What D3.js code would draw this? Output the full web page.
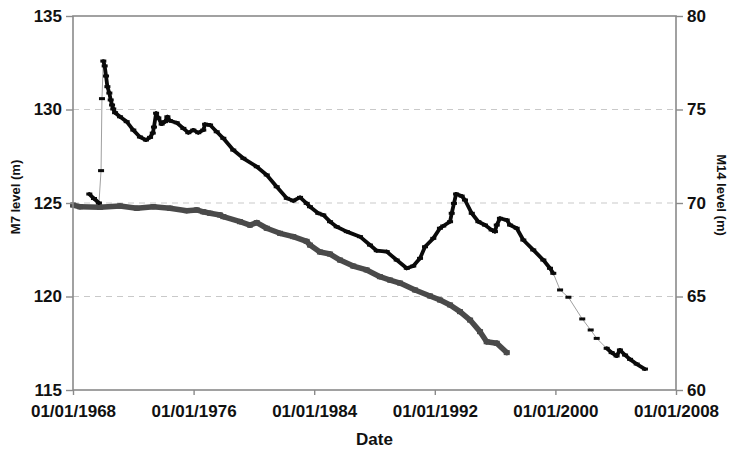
<!DOCTYPE html>
<html>
<head>
<meta charset="utf-8">
<script src="https://cdn.jsdelivr.net/npm/d3@7"></script>
<style>
  html, body { margin: 0; padding: 0; background: #fff; }
  svg { display: block; font-family: "Liberation Sans", Arial, sans-serif; }
</style>
</head>
<body>
<svg id="chart" width="730" height="451"></svg>
<script>
// ---- Data ----
const xTickLabels = ["01/01/1968", "01/01/1976", "01/01/1984", "01/01/1992", "01/01/2000", "01/01/2008"];
const leftTicks = [115, 120, 125, 130, 135];
const rightTicks = [60, 65, 70, 75, 80];

// M7 (left axis), decimal years and levels (m)
const m7Years = [1968.0, 1968.46, 1969.79, 1971.12, 1972.23, 1973.33, 1974.43, 1975.54, 1976.21, 1976.64,
  1977.09, 1977.75, 1977.97, 1979.08, 1979.74, 1980.19, 1980.85, 1981.73, 1982.61, 1983.50,
  1983.72, 1984.38, 1985.05, 1985.71, 1986.59, 1987.48, 1988.36, 1989.03, 1989.69, 1990.69,
  1991.68, 1992.35, 1993.01, 1993.67, 1994.34, 1995.0, 1995.44, 1996.11, 1996.77];
const m7Values = [124.89, 124.80, 124.77, 124.84, 124.72, 124.80, 124.72, 124.59, 124.63, 124.53,
  124.45, 124.36, 124.27, 124.0, 123.82, 123.95, 123.65, 123.38, 123.20, 122.95,
  122.75, 122.38, 122.27, 121.95, 121.63, 121.42, 121.06, 120.88, 120.72, 120.35,
  120.03, 119.81, 119.55, 119.19, 118.74, 118.12, 117.58, 117.50, 117.0];

// M14 (right axis)
const m14Years = [1969.08, 1969.39, 1969.72, 1969.86, 1969.92, 1970.01, 1970.10, 1970.19, 1970.28, 1970.41,
  1970.50, 1970.59, 1970.67, 1970.79, 1971.12, 1971.56, 1972.0, 1972.44, 1972.84, 1973.11,
  1973.29, 1973.37, 1973.51, 1973.66, 1973.88, 1974.10, 1974.26, 1974.43, 1974.88, 1975.32,
  1975.65, 1975.98, 1976.31, 1976.64, 1976.76, 1977.09, 1977.53, 1977.97, 1978.63, 1979.30,
  1980.19, 1980.85, 1981.51, 1982.18, 1982.61, 1983.06, 1983.50, 1983.72, 1984.27, 1984.60,
  1985.05, 1985.49, 1986.16, 1987.04, 1987.70, 1988.15, 1988.81, 1989.47, 1990.14, 1990.57,
  1991.02, 1991.35, 1991.90, 1992.34, 1992.56, 1993.01, 1993.12, 1993.27, 1993.41, 1993.78,
  1994.0, 1994.45, 1994.89, 1995.33, 1995.77, 1995.99, 1996.11, 1996.32, 1996.77, 1996.99,
  1997.43, 1997.87, 1998.53, 1999.20, 1999.64, 1999.86, 2000.31, 2000.86, 2001.78, 2002.34,
  2002.74, 2003.40, 2003.73, 2004.06, 2004.28, 2004.62, 2004.95, 2005.39, 2005.94];
const m14Values = [70.48, 70.24, 70.0, 71.73, 75.58, 77.59, 77.33, 76.79, 76.22, 75.88,
  75.51, 75.24, 75.03, 74.83, 74.61, 74.35, 73.90, 73.53, 73.37, 73.51,
  73.74, 74.06, 74.80, 74.55, 74.22, 74.35, 74.61, 74.40, 74.29, 73.99,
  73.76, 73.90, 73.76, 73.90, 74.21, 74.17, 73.81, 73.46, 72.83, 72.39,
  71.94, 71.50, 70.87, 70.25, 70.12, 70.30, 69.98, 69.80, 69.45, 69.36,
  69.0, 68.73, 68.47, 68.20, 67.75, 67.45, 67.40, 66.95, 66.51, 66.63,
  67.04, 67.66, 68.11, 68.65, 68.77, 69.0, 69.45, 69.98, 70.48, 70.37,
  70.16, 69.45, 69.0, 68.82, 68.56, 68.47, 68.82, 69.18, 69.09, 68.82,
  68.65, 68.02, 67.49, 66.95, 66.51, 66.24, 65.35, 64.96, 63.80, 63.21,
  62.76, 62.23, 62.0, 61.82, 62.14, 61.87, 61.64, 61.39, 61.12];
// Periods with only sparse readings for M14 (shown as separate markers)
const m14SparsePeriods = [[1969.70, 1970.02], [1999.80, 2003.50]];
const m7SparsePeriods = [];

// ---- Helpers ----
function decToDate(y) {
  const yr = Math.floor(y);
  const s = new Date(yr, 0, 1).getTime(), e = new Date(yr + 1, 0, 1).getTime();
  return new Date(s + (y - yr) * (e - s));
}
const parseTick = d3.timeParse("%d/%m/%Y");

// ---- Layout ----
const svg = d3.select("#chart");
const margin = { left: 73, right: 54, top: 16, bottom: 61 };
const W = 730, H = 451;
const x0 = margin.left, x1 = W - margin.right, y0 = margin.top, y1 = H - margin.bottom;

const x = d3.scaleTime().domain([parseTick(xTickLabels[0]), parseTick(xTickLabels[xTickLabels.length - 1])]).range([x0, x1]);
const yL = d3.scaleLinear().domain([115, 135]).range([y1, y0]);
const yR = d3.scaleLinear().domain([60, 80]).range([y1, y0]);

// Gridlines (dashed)
const grid = svg.append("g");
grid.selectAll("line").data(leftTicks.filter(t => t > 115 && t < 135)).join("line")
  .attr("x1", x0).attr("x2", x1)
  .attr("y1", d => yL(d)).attr("y2", d => yL(d))
  .attr("stroke", "#c9c9c9").attr("stroke-width", 1).attr("stroke-dasharray", "6,5");

function drawSeries(years, values, sparse, yScale, color, thick, mw, mh) {
  const g = svg.append("g");
  const pts = years.map((yr, i) => [x(decToDate(yr)), yScale(values[i])]);
  const inSparse = yr => sparse.some(p => yr >= p[0] && yr <= p[1]);
  g.append("path").attr("d", d3.line()(pts))
    .attr("fill", "none").attr("stroke", "#a0a0a0").attr("stroke-width", 1);
  const segs = [];
  for (let i = 1; i < pts.length; i++) {
    if (!(inSparse(years[i - 1]) && inSparse(years[i]))) segs.push([pts[i - 1], pts[i]]);
  }
  g.selectAll("line.seg").data(segs).join("line").attr("class", "seg")
    .attr("x1", s => s[0][0]).attr("y1", s => s[0][1])
    .attr("x2", s => s[1][0]).attr("y2", s => s[1][1])
    .attr("stroke", color).attr("stroke-width", thick).attr("stroke-linecap", "round");
  g.selectAll("rect").data(pts).join("rect")
    .attr("x", p => p[0] - mw / 2).attr("y", p => p[1] - mh / 2)
    .attr("width", mw).attr("height", mh).attr("fill", color);
}

drawSeries(m7Years, m7Values, m7SparsePeriods, yL, "#4a4a4a", 5.5, 6, 5);
drawSeries(m14Years, m14Values, m14SparsePeriods, yR, "#0a0a0a", 3.8, 6, 3);

// Frame
svg.append("rect").attr("x", x0).attr("y", y0).attr("width", x1 - x0).attr("height", y1 - y0)
  .attr("fill", "none").attr("stroke", "#8a8a8a").attr("stroke-width", 1.6);

// Axes
const fontSize = 17;
const axL = svg.append("g").attr("transform", `translate(${x0},0)`)
  .call(d3.axisLeft(yL).tickValues(leftTicks).tickSize(7).tickPadding(4).tickFormat(d3.format("d")));
const axR = svg.append("g").attr("transform", `translate(${x1},0)`)
  .call(d3.axisRight(yR).tickValues(rightTicks).tickSize(7).tickPadding(4).tickFormat(d3.format("d")));
const axB = svg.append("g").attr("transform", `translate(0,${y1})`)
  .call(d3.axisBottom(x).tickValues(xTickLabels.map(parseTick)).tickSize(5).tickPadding(10)
    .tickFormat(d3.timeFormat("%d/%m/%Y")));

[axL, axR, axB].forEach(a => {
  a.select(".domain").remove();
  a.selectAll(".tick line").attr("stroke", "#8a8a8a").attr("stroke-width", 1.4);
  a.selectAll(".tick text").attr("fill", "#111").attr("font-size", fontSize)
    .attr("font-weight", "bold").attr("font-family", "'Liberation Sans', Arial, sans-serif");
});

// Axis titles
svg.append("text").attr("x", (x0 + x1) / 2).attr("y", 445).attr("text-anchor", "middle")
  .attr("font-size", 17).attr("font-weight", "bold").attr("fill", "#111").text("Date");
svg.append("text").attr("transform", "translate(20,197) rotate(-90)").attr("text-anchor", "middle")
  .attr("font-size", 13).attr("font-weight", "bold").attr("fill", "#111").text("M7 level (m)");
svg.append("text").attr("transform", "translate(717,195) rotate(90)").attr("text-anchor", "middle")
  .attr("font-size", 13).attr("font-weight", "bold").attr("fill", "#111").text("M14 level (m)");
</script>
</body>
</html>
